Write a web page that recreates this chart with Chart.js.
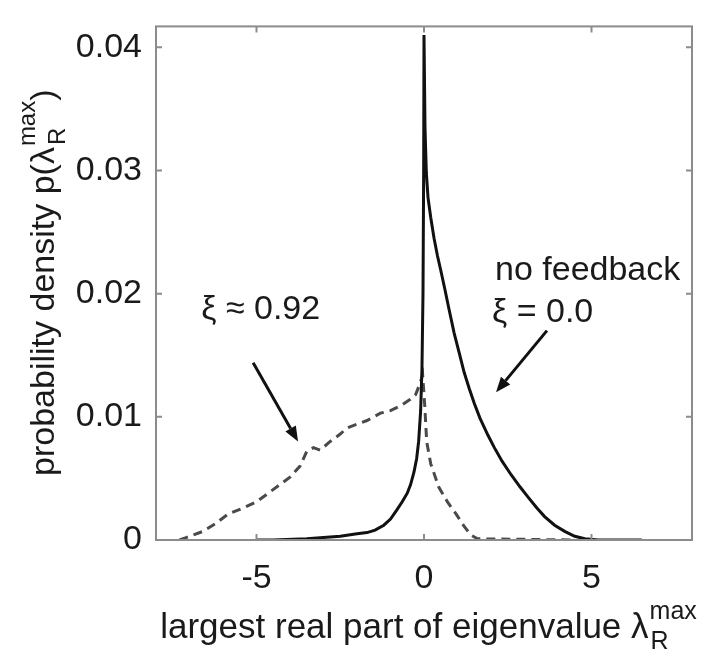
<!DOCTYPE html>
<html>
<head>
<meta charset="utf-8">
<script src="https://cdn.jsdelivr.net/npm/chart.js@4.4.0/dist/chart.umd.min.js"></script>
<style>
  html, body { margin: 0; padding: 0; background: #fff; }
  #wrap { width: 701px; height: 654px; }
</style>
</head>
<body>
<div id="wrap"><canvas id="chart" width="701" height="654"></canvas></div>
<script>
// values
const noFeedbackX = [-5, -4.5, -3.5, -3.0, -2.5, -2.0, -1.7, -1.46, -1.2, -1.0, -0.82, -0.65, -0.5, -0.4, -0.3, -0.22, -0.16, -0.1, -0.06, -0.03, -0.01, 0, 0.03, 0.07, 0.12, 0.2, 0.3, 0.4, 0.5, 0.62, 0.75, 0.9, 1.07, 1.2, 1.35, 1.5, 1.67, 1.91, 2.1, 2.33, 2.6, 2.87, 3.1, 3.37, 3.6, 3.9, 4.2, 4.5, 4.8, 5.2, 5.6, 6.5];
const noFeedbackY = [0, 0, 0.0001, 0.0002, 0.0003, 0.0005, 0.0006, 0.0008, 0.0012, 0.0017, 0.0024, 0.0031, 0.0038, 0.0045, 0.0055, 0.0066, 0.0080, 0.0105, 0.0140, 0.0200, 0.0300, 0.0410, 0.0335, 0.0298, 0.0278, 0.0262, 0.0245, 0.0231, 0.0219, 0.0204, 0.0187, 0.0168, 0.0150, 0.0136, 0.0123, 0.0111, 0.0099, 0.0085, 0.0075, 0.0064, 0.0053, 0.0043, 0.0035, 0.0026, 0.0019, 0.0012, 0.0007, 0.0003, 0.0001, 0, 0, 0];

const feedbackX = [-7.3, -7.1, -6.6, -6.24, -5.85, -5.4, -5.0, -4.6, -4.3, -4.0, -3.7, -3.5, -3.3, -3.1, -2.8, -2.5, -2.3, -2.0, -1.7, -1.3, -1.0, -0.7, -0.42, -0.25, -0.12, -0.04, 0.02, 0.08, 0.2, 0.44, 0.7, 0.96, 1.2, 1.4, 1.6, 4.5];
const feedbackY = [0, 0.0002, 0.0007, 0.0013, 0.0021, 0.0026, 0.0031, 0.0039, 0.0045, 0.0051, 0.0060, 0.0072, 0.0075, 0.0073, 0.0080, 0.0086, 0.0091, 0.0094, 0.0097, 0.0103, 0.0105, 0.0109, 0.0114, 0.0118, 0.0127, 0.0134, 0.0110, 0.0080, 0.0062, 0.0043, 0.0031, 0.0021, 0.0011, 0.0004, 0.0001, 0];

const xTicks = [-5, 0, 5];
const yTicks = [0, 0.01, 0.02, 0.03, 0.04];

// annotation text and arrows, in data coordinates
const notes = [
  { text: "\u03BE \u2248 0.92", x: -6.65, y: 0.0187 },
  { text: "no feedback", x: 2.12, y: 0.0219 },
  { text: "\u03BE = 0.0", x: 2.03, y: 0.0185 },
];
const arrows = [
  { from: [-5.1, 0.0144], to: [-3.76, 0.0080] },
  { from: [3.67, 0.0170], to: [2.15, 0.0120] },
];

const FONT = '"Liberation Sans", Arial, Helvetica, sans-serif';
const TEXT = "#1a1a1a";

function toPoints(xs, ys) {
  return xs.map((x, i) => ({ x: x, y: ys[i] }));
}

// text with a lambda carrying both superscript "max" and subscript "R"
function drawLambdaText(ctx, before, after, cx, baseY, size) {
  const small = Math.round(size * 0.7);
  ctx.font = `${size}px ${FONT}`;
  const wBefore = ctx.measureText(before).width;
  const wAfter = ctx.measureText(after).width;
  ctx.font = `${small}px ${FONT}`;
  const wScript = Math.max(ctx.measureText("max").width, ctx.measureText("R").width);
  let x = cx - (wBefore + wScript + wAfter) / 2;
  ctx.textAlign = "left";
  ctx.textBaseline = "alphabetic";
  ctx.font = `${size}px ${FONT}`;
  ctx.fillText(before, x, baseY);
  x += wBefore + 1;
  ctx.font = `${small}px ${FONT}`;
  ctx.fillText("max", x, baseY - size * 0.55);
  ctx.fillText("R", x + 1, baseY + size * 0.32);
  x += wScript;
  ctx.font = `${size}px ${FONT}`;
  ctx.fillText(after, x, baseY);
}

const decorPlugin = {
  id: "decor",
  afterDraw(chart) {
    const ctx = chart.ctx;
    const a = chart.chartArea;
    const xs = chart.scales.x;
    const ys = chart.scales.y;
    ctx.save();

    // box and inward ticks
    ctx.strokeStyle = "#8c8c8c";
    ctx.lineWidth = 2;
    ctx.strokeRect(a.left, a.top, a.right - a.left, a.bottom - a.top);
    ctx.beginPath();
    xTicks.forEach((v) => {
      const px = xs.getPixelForValue(v);
      ctx.moveTo(px, a.bottom); ctx.lineTo(px, a.bottom - 6);
      ctx.moveTo(px, a.top); ctx.lineTo(px, a.top + 6);
    });
    yTicks.forEach((v) => {
      const py = ys.getPixelForValue(v);
      ctx.moveTo(a.left, py); ctx.lineTo(a.left + 6, py);
      ctx.moveTo(a.right, py); ctx.lineTo(a.right - 6, py);
    });
    ctx.stroke();

    // axis titles
    ctx.fillStyle = TEXT;
    drawLambdaText(ctx, "largest real part of eigenvalue \u03BB", "", (a.left + a.right) / 2 + 4, 638, 35);
    ctx.save();
    ctx.translate(54, (a.top + a.bottom) / 2);
    ctx.rotate(-Math.PI / 2);
    drawLambdaText(ctx, "probability density p(\u03BB", ")", 0, 0, 34);
    ctx.restore();

    // annotations
    ctx.font = `34px ${FONT}`;
    ctx.textAlign = "left";
    ctx.textBaseline = "middle";
    notes.forEach((n) => {
      ctx.fillText(n.text, xs.getPixelForValue(n.x), ys.getPixelForValue(n.y));
    });

    ctx.strokeStyle = "#111";
    ctx.fillStyle = "#111";
    ctx.lineWidth = 3;
    arrows.forEach((ar) => {
      const x1 = xs.getPixelForValue(ar.from[0]);
      const y1 = ys.getPixelForValue(ar.from[1]);
      const x2 = xs.getPixelForValue(ar.to[0]);
      const y2 = ys.getPixelForValue(ar.to[1]);
      const ang = Math.atan2(y2 - y1, x2 - x1);
      const head = 15;
      const bx = x2 - head * Math.cos(ang);
      const by = y2 - head * Math.sin(ang);
      ctx.beginPath();
      ctx.moveTo(x1, y1);
      ctx.lineTo(bx, by);
      ctx.stroke();
      ctx.beginPath();
      ctx.moveTo(x2, y2);
      ctx.lineTo(bx + 6 * Math.sin(ang), by - 6 * Math.cos(ang));
      ctx.lineTo(bx - 6 * Math.sin(ang), by + 6 * Math.cos(ang));
      ctx.closePath();
      ctx.fill();
    });
    ctx.restore();
  },
};

const ctx = document.getElementById("chart").getContext("2d");
new Chart(ctx, {
  type: "line",
  data: {
    datasets: [
      {
        label: "no feedback",
        data: toPoints(noFeedbackX, noFeedbackY),
        borderColor: "#111",
        borderWidth: 3,
        pointRadius: 0,
        tension: 0,
        order: 0,
      },
      {
        label: "xi 0.92",
        data: toPoints(feedbackX, feedbackY),
        borderColor: "#4a4a4a",
        borderWidth: 3,
        borderDash: [9, 6],
        pointRadius: 0,
        tension: 0,
        order: 1,
      },
    ],
  },
  options: {
    responsive: false,
    animation: false,
    devicePixelRatio: 1,
    layout: { padding: { top: 11, right: 9, left: 0, bottom: 0 } },
    plugins: {
      legend: { display: false },
      tooltip: { enabled: false },
    },
    scales: {
      x: {
        type: "linear",
        min: -8,
        max: 8,
        grid: { display: false },
        border: { display: false },
        afterBuildTicks: (scale) => {
          scale.ticks = xTicks.map((v) => ({ value: v }));
        },
        afterFit: (scale) => { scale.height = 114; },
        ticks: {
          color: TEXT,
          font: { family: FONT, size: 34 },
          padding: 10,
          maxRotation: 0,
          callback: (v) => String(v),
        },
      },
      y: {
        min: 0,
        max: 0.0417,
        grid: { display: false },
        border: { display: false },
        afterBuildTicks: (scale) => {
          scale.ticks = yTicks.map((v) => ({ value: v }));
        },
        afterFit: (scale) => { scale.width = 156; },
        ticks: {
          color: TEXT,
          font: { family: FONT, size: 34 },
          padding: 6,
          callback: (v) => (v === 0 ? "0" : v.toFixed(2)),
        },
      },
    },
  },
  plugins: [decorPlugin],
});
</script>
</body>
</html>
